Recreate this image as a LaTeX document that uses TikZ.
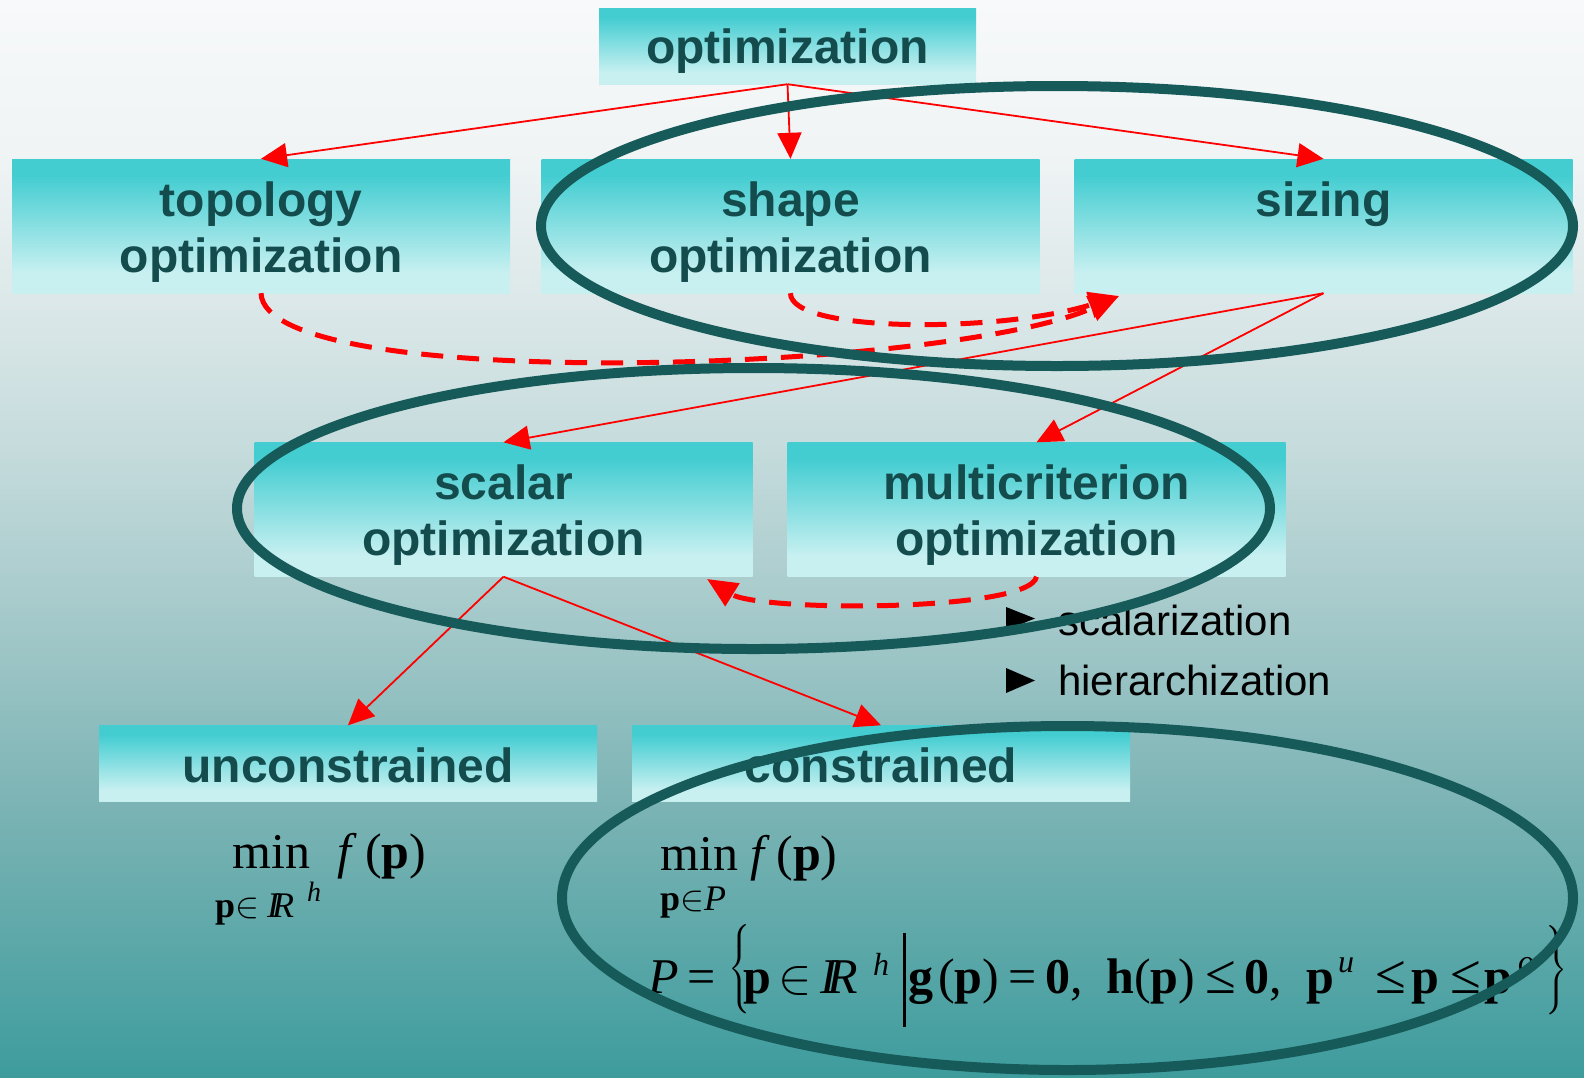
\RequirePackage{fix-cm}
\documentclass[tikz,border=0pt]{standalone}
\usepackage{amsmath}
\usepackage{fontspec}
\setmainfont{Liberation Serif}
\newfontfamily\arial{Liberation Sans}
\usetikzlibrary{arrows.meta}

% colours
\definecolor{boxhi}{RGB}{67,205,209}
\definecolor{boxlo}{RGB}{200,240,241}
\definecolor{boxtext}{RGB}{20,76,78}
\definecolor{ringcol}{RGB}{23,90,90}
\definecolor{bgA}{RGB}{247,249,250}
\definecolor{bgB}{RGB}{240,244,245}
\definecolor{bgC}{RGB}{220,232,233}
\definecolor{bgD}{RGB}{197,219,220}
\definecolor{bgE}{RGB}{168,203,204}
\definecolor{bgF}{RGB}{125,180,181}
\definecolor{bgG}{RGB}{62,156,157}

% page background, light at the top and teal at the bottom
\pgfdeclareverticalshading{bgsh}{100bp}{color(0bp)=(bgG); color(25bp)=(bgG);
  color(37.86bp)=(bgF); color(47.15bp)=(bgE); color(54.1bp)=(bgD);
  color(61.07bp)=(bgC); color(68bp)=(bgB); color(75bp)=(bgA); color(100bp)=(bgA)}
% box fill, saturated cyan at the top fading to pale
\pgfdeclareverticalshading{boxsh}{100bp}{color(0bp)=(boxlo); color(25bp)=(boxlo);
  color(32.5bp)=(boxlo); color(69bp)=(boxhi); color(75bp)=(boxhi); color(100bp)=(boxhi)}

% formula helpers
\newcommand\Tb[1]{{\bfseries #1}}
\newcommand\Ti[1]{{\itshape #1}}
\newcommand\lesym{{\fontsize{56}{56}\selectfont ≤}}
% box caption: centred lines, lowered a little inside the box
\newcommand\btext[2][7pt]{\raisebox{-#1}[\height][\depth]{\begin{tabular}{@{}c@{}}#2\end{tabular}}}
% tall brace of a given height
\newcommand\tallbrace[2]{$\left#1\vcenter{\hbox{\rule{0pt}{#2}}}\right.$}
\newcommand\tallbraceR[2]{$\left.\vcenter{\hbox{\rule{0pt}{#2}}}\right#1$}

\begin{document}
\begin{tikzpicture}[x=1pt,y=-1pt,
  box/.style={shading=boxsh, minimum width=498pt, minimum height=134pt,
    inner sep=0pt, text=boxtext,
    font=\arial\bfseries\fontsize{48}{56}\selectfont},
  flatbox/.style={box, minimum height=76pt},
  arr/.style={draw=red, line width=1.8pt, -{Triangle[length=26pt,width=24pt]}},
  darr/.style={draw=red, line width=5pt, dash pattern=on 22pt off 14pt,
    -{Triangle[length=30pt,width=26pt]}},
  ring/.style={draw=ringcol, line width=10pt},
  fml/.style={inner sep=0pt, anchor=base west, font=\fontsize{50}{56}\selectfont},
  fsub/.style={inner sep=0pt, anchor=base west, font=\fontsize{36}{40}\selectfont},
  fsup/.style={inner sep=0pt, anchor=base west, font=\itshape\fontsize{32}{36}\selectfont},
  fsmall/.style={fsup, font=\itshape\fontsize{28}{30}\selectfont},
  fcent/.style={inner sep=0pt, font=\fontsize{50}{56}\selectfont},
  bultext/.style={inner sep=0pt, anchor=base west, font=\arial\fontsize{42}{48}\selectfont}]

\useasboundingbox (0,0) rectangle (1584,1077);
\shade[shading=bgsh] (0,0) rectangle (1584,1077);

% boxes
\node[flatbox, minimum width=377pt] (opt) at (787.5,46) {\btext[6pt]{optimization}};
\node[box] (topo) at (261,226) {\btext{topology\\optimization}};
\node[box] (shape) at (790.5,226) {\btext{shape\\optimization}};
\node[box] (size) at (1323.5,226) {\btext{sizing\\\mbox{}}};
\node[box] (scal) at (503.5,509.5) {\btext{scalar\\optimization}};
\node[box] (multi) at (1036.5,509.5) {\btext{multicriterion\\optimization}};
\node[flatbox] (uncon) at (348,763.5) {\btext[8pt]{unconstrained}};
\node[flatbox] (con) at (881,763.5) {\btext[8pt]{constrained}};

% hierarchy connectors
\draw[arr] (opt.south) -- (topo.north);
\draw[arr] (opt.south) -- (shape.north);
\draw[arr] (opt.south) -- (size.north);
\draw[arr] (size.south) -- (scal.north);
\draw[arr] (size.south) -- (multi.north);
\draw[arr] (scal.south) -- (uncon.north);
\draw[arr] (scal.south) -- (con.north);

% dashed links
\coordinate (sizein) at (1119,296);
\coordinate (scalin) at (707,579);
\draw[darr] (topo.south) .. controls (265,395) and (950,372) .. (sizein);
\draw[darr] (shape.south) .. controls (790,333) and (1000,333) .. (sizein);
\draw[darr] (multi.south) .. controls (1030,612) and (760,612) .. (scalin);

% unconstrained problem
\node[fml] (umin) at (232,868) {min};
\node[fml] (uf) at (337,868) {\Ti{f}\kern14pt(\Tb{p})};
\node[fsub] (usub) at (215,917) {\Tb{p}$\in$\kern8pt\Ti{I}\kern-7pt\Ti{R}};
\node[fsmall] (uh) at (307,901) {h};

% constrained problem
\node[fml] (cmin) at (660,870) {min \Ti{f}\kern12pt(\Tb{p})};
\node[fsub] (csub) at (660,910) {\Tb{p}$\in$\Ti{P}};
\node[fml] (cPeq) at (648,993) {\Ti{P}\kern9pt=};
\node[fcent] (cbl) at (740,969) {\tallbrace{\{}{92pt}};
\node[fml] (cpin) at (743,993) {\Tb{p}\kern7pt$\in$\kern9pt\Ti{I}\kern-10pt\Ti{R}};
\node[fsup] (ch) at (873,975) {h};
\node[fill=black, inner sep=0pt, minimum width=2.4pt, minimum height=94pt] (cbar) at (904.5,980) {};
\node[fml] (cgp) at (908,993) {\Tb{g}\kern5pt(\Tb{p})\kern9pt=\kern9pt\Tb{0},};
\node[fml] (chp) at (1106,993) {\Tb{h}(\Tb{p})\kern10pt\lesym\kern9pt\Tb{0},};
\node[fml] (cpu) at (1306,993) {\Tb{p}};
\node[fsup] (cu) at (1338,972) {u};
\node[fml] (cle) at (1375,993) {\lesym\kern6pt\Tb{p}\kern11pt\lesym\kern3pt\Tb{p}};
\node[fsup] (co) at (1518,972) {o};
\node[fcent] (cbr) at (1556,970) {\tallbraceR{\}}{92pt}};

% scalarization methods
\fill (1006,607) -- (1035,618.5) -- (1006,630) -- cycle;
\fill (1006,668) -- (1035,680.5) -- (1006,693) -- cycle;
\node[bultext] (b1) at (1058,635) {scalarization};
\node[bultext] (b2) at (1058,695) {hierarchization};

% highlight rings
\draw[ring] (1057,226) ellipse [x radius=516, y radius=140];
\draw[ring] (753.5,508.5) ellipse [x radius=516.5, y radius=140.5];
\draw[ring] (1067.5,898) ellipse [x radius=505.5, y radius=172];
\end{tikzpicture}
\end{document}
